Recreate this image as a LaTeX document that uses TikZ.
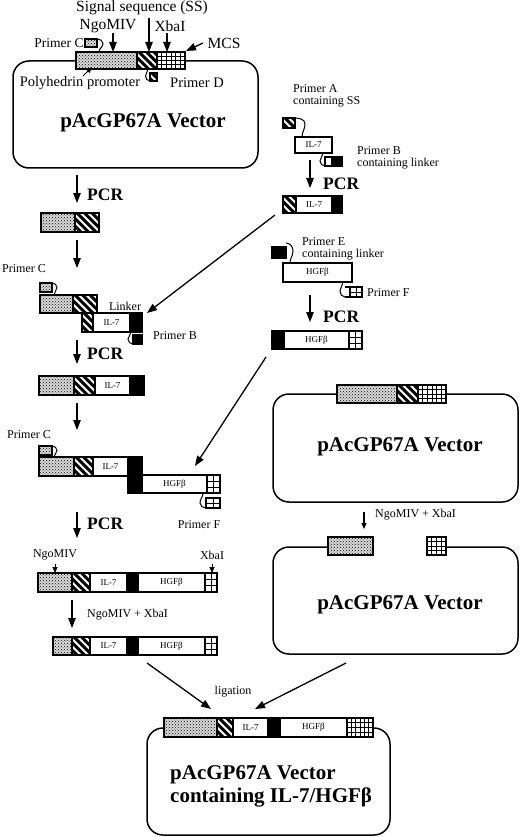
\documentclass[tikz,border=0pt]{standalone}
\usepackage{fontspec}
\setmainfont{Liberation Serif}
\usetikzlibrary{patterns,arrows.meta}
\tikzset{
  bar/.style={line width=1.1pt},
  vec/.style={line width=1.5pt, rounded corners=16pt},
  arr/.style={line width=1.3pt, -{Triangle[length=10pt,width=7.5pt]}},
  sarr/.style={line width=1pt, -{Triangle[length=6pt,width=5pt]}},
  hook/.style={line width=1pt},
  lbl/.style={font=\fontsize{12}{12.5}\selectfont, inner sep=0pt},
  toplbl/.style={font=\fontsize{15.5}{16}\selectfont, inner sep=0pt},
  pcr/.style={font=\bfseries\fontsize{17.5}{18}\selectfont, inner sep=0pt, anchor=west},
  vecl/.style={font=\bfseries\fontsize{21}{23}\selectfont, inner sep=0pt},
  inb/.style={font=\fontsize{9}{9}\selectfont, inner sep=0pt}
}
\newcommand{\dotbox}[4]{\fill[black!14] (#1,#2) rectangle (#3,#4);
  \fill[pattern=crosshatch dots, pattern color=black] (#1,#2) rectangle (#3,#4);
  \draw[bar] (#1,#2) rectangle (#3,#4);}
\newcommand{\hatchbox}[4]{\fill[white] (#1,#2) rectangle (#3,#4);
  \begin{scope}\clip (#1,#2) rectangle (#3,#4);
  \foreach \k in {-4,...,5} \draw[line width=3pt] ({#1+\k*7.5},{#2-2}) -- ++(24,24);
  \end{scope}
  \draw[bar] (#1,#2) rectangle (#3,#4);}
\newcommand{\whitebox}[4]{\draw[bar, fill=white] (#1,#2) rectangle (#3,#4);}
\newcommand{\blackbox}[4]{\draw[bar, fill=black] (#1,#2) rectangle (#3,#4);}
\newcommand{\gridbox}[6]{\fill[white] (#1,#2) rectangle (#3,#4);
  \foreach \i in {1,...,#5} \draw[line width=0.8pt] ({#1+\i*(#3-#1)/#5},#2) -- ({#1+\i*(#3-#1)/#5},#4);
  \foreach \j in {1,...,#6} \draw[line width=0.8pt] (#1,{#2+\j*(#4-#2)/#6}) -- (#3,{#2+\j*(#4-#2)/#6});
  \draw[bar] (#1,#2) rectangle (#3,#4);}
\begin{document}
\begin{tikzpicture}[x=1pt,y=-1pt]
\useasboundingbox (0,0) rectangle (520,837);
\fill[white] (0,0) rectangle (520,837);

% ---------------- top vector ----------------
\draw[vec] (13,61) rectangle (258,168);
\dotbox{76}{52}{137}{69}
\hatchbox{137}{52}{157}{69}
\gridbox{157}{52}{185}{69}{6}{4}
\node[vecl] (v1) at (143,123) {pAcGP67A Vector};
% primer C (top)
\dotbox{85}{39}{97}{47}
\draw[hook] (97,39) to[out=0,in=90] (103,43.5) to[out=270,in=90] (99,52);
% primer D
\hatchbox{150}{73}{157}{81}
\draw[hook] (150,81) to[out=180,in=270] (145.5,76) to[out=90,in=270] (148,69);
\node[toplbl] (ss) at (142,8) {Signal sequence (SS)};
\node[toplbl] (ngo1) at (108,26) {NgoMIV};
\node[toplbl] (xba1) at (170,26) {XbaI};
\node[toplbl] (mcs) at (224,43) {MCS};
\node[lbl, font=\fontsize{13.5}{14}\selectfont] (pc1) at (59,43) {Primer C};
\node[toplbl, font=\fontsize{14.5}{15}\selectfont] (poly) at (80,83) {Polyhedrin promoter};
\node[toplbl, font=\fontsize{14.5}{15}\selectfont] (pd) at (197,83) {Primer D};
\coordinate (ssA) at (149,18); \coordinate (ssB) at (149,52);
\coordinate (ngA) at (113,33); \coordinate (ngB) at (113,52);
\coordinate (xbA) at (167,33); \coordinate (xbB) at (167,52);
\coordinate (mcA) at (203,43); \coordinate (mcB) at (186,51);
\coordinate (poA) at (83,76); \coordinate (poB) at (92,67);
\draw[arr] (ssA) -- (ssB);
\draw[arr] (ngA) -- (ngB);
\draw[arr] (xbA) -- (xbB);
\draw[arr] (mcA) -- (mcB);
\draw[sarr] (poA) -- (poB);

% ---------------- left column ----------------
\coordinate (a1s) at (77,175); \coordinate (a1e) at (77,203);
\draw[arr] (a1s) -- (a1e);
\node[pcr] (pcr1) at (87,195) {PCR};
\dotbox{41}{213}{75}{232}
\hatchbox{75}{213}{99}{232}
\coordinate (a2s) at (77,240); \coordinate (a2e) at (77,268);
\draw[arr] (a2s) -- (a2e);
\node[lbl] (pc2) at (24,269) {Primer C};
\dotbox{40}{283}{52}{292}
\draw[hook] (52,283) to[out=0,in=90] (57,287.5) to[out=270,in=90] (54,295);
\dotbox{40}{295}{73}{313}
\hatchbox{73}{295}{97}{313}
\hatchbox{82}{313}{93}{332}
\whitebox{93}{313}{130}{332}
\blackbox{130}{313}{142}{332}
\node[inb] (il2) at (111.5,322.5) {IL-7};
\node[lbl] (lk) at (125,306) {Linker};
\blackbox{133}{335}{142}{344}
\draw[hook] (133,344) to[out=180,in=270] (128,339) to[out=90,in=270] (131,332);
\draw[bar] (133,335) -- (133,344);
\node[lbl, anchor=west] (pb2) at (153,336) {Primer B};
\coordinate (a3s) at (77,340); \coordinate (a3e) at (77,364);
\draw[arr] (a3s) -- (a3e);
\node[pcr] (pcr3) at (87,354) {PCR};
\dotbox{39}{376}{74}{395}
\hatchbox{74}{376}{95}{395}
\whitebox{95}{376}{130}{395}
\blackbox{130}{376}{144}{395}
\node[inb] (il3) at (112.5,385.5) {IL-7};
\coordinate (a4s) at (77,403); \coordinate (a4e) at (77,430);
\draw[arr] (a4s) -- (a4e);
\node[lbl] (pc3) at (29,435) {Primer C};
\dotbox{39}{446}{52}{455}
\draw[hook] (52,446) to[out=0,in=90] (57,450.5) to[out=270,in=90] (54,457);
\dotbox{39}{457}{74}{476}
\hatchbox{74}{457}{93}{476}
\whitebox{93}{457}{128}{476}
\blackbox{128}{457}{142}{493}
\whitebox{142}{475}{207}{493}
\gridbox{207}{475}{220}{493}{2}{3}
\node[inb] (il4) at (110.5,466.5) {IL-7};
\node[inb] (hg4) at (174.5,484) {HGFβ};
\gridbox{206}{498}{220}{508}{2}{2}
\draw[hook] (206,508) to[out=180,in=270] (200,503) to[out=90,in=270] (203,493);
\node[lbl] (pf4) at (199,525) {Primer F};
\coordinate (a5s) at (77,512); \coordinate (a5e) at (77,538);
\draw[arr] (a5s) -- (a5e);
\node[pcr] (pcr5) at (87,524) {PCR};
\node[lbl] (ngo5) at (55,555) {NgoMIV};
\node[lbl] (xba5) at (212,555) {XbaI};
\coordinate (n5s) at (55,564); \coordinate (n5e) at (55,573);
\coordinate (x5s) at (212,564); \coordinate (x5e) at (212,573);
\draw[sarr] (n5s) -- (n5e);
\draw[sarr] (x5s) -- (x5e);
\dotbox{38}{573}{72}{592}
\hatchbox{72}{573}{90}{592}
\whitebox{90}{573}{127}{592}
\blackbox{127}{573}{138}{592}
\whitebox{138}{573}{205}{592}
\gridbox{205}{573}{217}{592}{2}{3}
\node[inb] (il5) at (108.5,582.5) {IL-7};
\node[inb] (hg5) at (171.5,582.5) {HGFβ};
\coordinate (a6s) at (72,600); \coordinate (a6e) at (72,628);
\draw[arr] (a6s) -- (a6e);
\node[lbl, anchor=west] (ngx6) at (87,615) {NgoMIV + XbaI};
\dotbox{53}{637}{72}{655}
\hatchbox{72}{637}{90}{655}
\whitebox{90}{637}{127}{655}
\blackbox{127}{637}{138}{655}
\whitebox{138}{637}{205}{655}
\gridbox{205}{637}{217}{655}{2}{3}
\node[inb] (il6) at (108.5,646) {IL-7};
\node[inb] (hg6) at (171.5,646) {HGFβ};

% ---------------- right column ----------------
\node[lbl, anchor=west, align=left, font=\fontsize{12}{12}\selectfont] (pa) at (293,96) {Primer A\\containing SS};
\hatchbox{283}{118}{295}{128}
\draw[hook] (295,118) to[out=0,in=90] (305,124) to[out=270,in=90] (302,137);
\whitebox{295}{137}{332}{153}
\node[inb] (ilr) at (313.5,145) {IL-7};
\whitebox{325}{157}{332}{166}
\blackbox{332}{157}{342}{166}
\draw[hook] (325,166) to[out=180,in=270] (320,161) to[out=90,in=270] (323,153);
\node[lbl, anchor=west, align=left, font=\fontsize{12}{12}\selectfont] (pbr) at (357,158) {Primer B\\containing linker};
\coordinate (r1s) at (310,160); \coordinate (r1e) at (310,188);
\draw[arr] (r1s) -- (r1e);
\node[pcr] (pcr6) at (323,184) {PCR};
\hatchbox{283}{196}{296}{213}
\whitebox{296}{196}{332}{213}
\blackbox{332}{196}{342}{213}
\node[inb] (ilr2) at (314,204.5) {IL-7};
\blackbox{272}{247}{286}{258}
\draw[hook] (286,243) to[out=0,in=90] (293,251) to[out=270,in=90] (290,263);
\node[lbl, anchor=west, align=left, font=\fontsize{12}{12}\selectfont] (per) at (302,249) {Primer E\\containing linker};
\whitebox{283}{263}{352}{282}
\node[inb] (hgr) at (317.5,272.5) {HGFβ};
\gridbox{350}{287}{362}{297}{2}{2}
\draw[bar] (345,287) -- (350,287) (345,297) -- (350,297);
\draw[hook] (345,297) to[out=180,in=270] (340,291) to[out=90,in=270] (343,282);
\node[lbl, anchor=west] (pfr) at (367,293) {Primer F};
\coordinate (r2s) at (310,295); \coordinate (r2e) at (310,322);
\draw[arr] (r2s) -- (r2e);
\node[pcr] (pcr7) at (323,317) {PCR};
\blackbox{272}{331}{284}{349}
\whitebox{284}{331}{349}{349}
\gridbox{349}{331}{362}{349}{2}{3}
\node[inb] (hgr2) at (316.5,340) {HGFβ};

% vector 2
\draw[vec] (273,394) rectangle (518,502);
\dotbox{337}{385}{397}{403}
\hatchbox{397}{385}{418}{403}
\gridbox{418}{385}{446}{403}{6}{4}
\node[vecl] (v2) at (400,447) {pAcGP67A Vector};
\coordinate (r3s) at (364,512); \coordinate (r3e) at (364,529);
\draw[sarr, line width=1.2pt] (r3s) -- (r3e);
\node[lbl, anchor=west] (ngx2) at (375,515) {NgoMIV + XbaI};
% vector 3 (opened)
\draw[vec] (373,547) -- (273,547) -- (273,654) -- (518,654) -- (518,547) -- (446,547);
\dotbox{328}{537}{373}{555}
\gridbox{427}{537}{446}{555}{4}{4}
\node[vecl] (v3) at (400,605) {pAcGP67A Vector};

% diagonal connectors
\coordinate (d1s) at (275,215); \coordinate (d1e) at (147,313);
\draw[arr] (d1s) -- (d1e);
\coordinate (d2s) at (266,357); \coordinate (d2e) at (195,466);
\draw[arr] (d2s) -- (d2e);
\coordinate (l1s) at (147,663); \coordinate (l1e) at (211,709);
\coordinate (l2s) at (346,663); \coordinate (l2e) at (255,709);
\draw[arr] (l1s) -- (l1e);
\draw[arr] (l2s) -- (l2e);
\node[lbl] (lig) at (233,692) {ligation};

% final vector
\draw[vec] (147,728) rectangle (390,835);
\dotbox{164}{718}{217}{737}
\hatchbox{217}{718}{233}{737}
\whitebox{233}{718}{268}{737}
\blackbox{268}{718}{280}{737}
\whitebox{280}{718}{347}{737}
\gridbox{347}{718}{373}{737}{6}{4}
\node[inb] (ilf) at (250.5,727.5) {IL-7};
\node[inb] (hgf) at (313.5,727.5) {HGFβ};
\node[vecl, anchor=west, align=left] (vf) at (170,786.5) {pAcGP67A Vector\\containing IL-7/HGFβ};
\end{tikzpicture}
\end{document}
